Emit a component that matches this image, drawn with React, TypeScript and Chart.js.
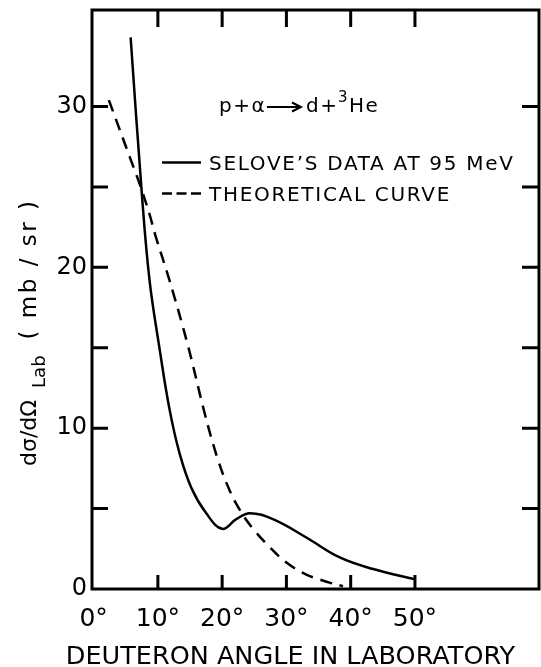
import React, { useEffect, useRef } from 'react';
import { Chart, registerables } from 'chart.js';

Chart.register(...registerables);

// ---- data ----
const xTickLabels = [0, 10, 20, 30, 40, 50];
const xTickMarks = [10, 20, 30, 40, 50];
const yTickLabels = [0, 10, 20, 30];
const yTickMarks = [5, 10, 15, 20, 25, 30];

const seloveLabel = 'SELOVE\u2019S DATA AT 95 MeV';
const seloveAngles = [5.76, 7.5, 8.7, 10.2, 11.8, 13.4, 15.2, 17.5, 20.0, 22.2, 24.3, 27.9, 33.1, 38.3, 43.5, 50.0];
const seloveValues = [34.3, 24.6, 19.2, 15.1, 11.2, 8.4, 6.3, 4.72, 3.74, 4.34, 4.71, 4.34, 3.2, 1.96, 1.24, 0.6];

const theoryLabel = 'THEORETICAL CURVE';
const theoryAngles = [2.37, 5.86, 7.15, 8.7, 9.6, 11.8, 14.7, 17.3, 19.3, 21.2, 23.0, 24.8, 27.4, 30.0, 33.1, 36.7, 38.8];
const theoryValues = [30.4, 26.6, 25.2, 23.3, 22.0, 19.2, 15.1, 10.9, 8.1, 6.1, 4.75, 3.75, 2.6, 1.65, 0.9, 0.4, 0.17];

const xMin = -0.25;
const xMax = 69.3;
const yMin = 0;
const yMax = 36;

const FONT = '"DejaVu Sans", sans-serif';

const decorPlugin = {
  id: 'decor',
  afterDraw(chart: any) {
    const { ctx, chartArea: a, scales } = chart;
    const xs = scales.x;
    const ys = scales.y;
    ctx.save();
    ctx.strokeStyle = '#000';
    ctx.fillStyle = '#000';

    // frame
    ctx.lineWidth = 3;
    ctx.strokeRect(a.left, a.top, a.right - a.left, a.bottom - a.top);

    // inward tick marks
    ctx.beginPath();
    for (const v of yTickMarks) {
      const y = ys.getPixelForValue(v);
      ctx.moveTo(a.left, y);
      ctx.lineTo(a.left + 16, y);
      ctx.moveTo(a.right, y);
      ctx.lineTo(a.right - 17, y);
    }
    for (const v of xTickMarks) {
      const x = xs.getPixelForValue(v);
      ctx.moveTo(x, a.top);
      ctx.lineTo(x, a.top + 17);
      ctx.moveTo(x, a.bottom);
      ctx.lineTo(x, a.bottom - 14);
    }
    ctx.stroke();

    // reaction label: p+α ⟶ d+³He
    ctx.textBaseline = 'alphabetic';
    ctx.textAlign = 'left';
    const rx = a.left + 127;
    const ry = a.top + 102;
    ctx.font = `20px ${FONT}`;
    (ctx as any).letterSpacing = '1.5px';
    ctx.fillText('p+\u03b1', rx, ry);
    ctx.lineWidth = 2;
    ctx.beginPath();
    const ax0 = rx + 48;
    const ax1 = rx + 82;
    const ay = ry - 5;
    ctx.moveTo(ax0, ay);
    ctx.lineTo(ax1, ay);
    ctx.moveTo(ax1 - 9, ay - 4.5);
    ctx.lineTo(ax1, ay);
    ctx.lineTo(ax1 - 9, ay + 4.5);
    ctx.stroke();
    ctx.fillText('d+', rx + 87, ry);
    ctx.font = `15px ${FONT}`;
    ctx.fillText('3', rx + 119, ry - 10);
    ctx.font = `20px ${FONT}`;
    ctx.fillText('He', rx + 130, ry);
    (ctx as any).letterSpacing = '0px';

    // legend
    const lx0 = a.left + 70;
    const lx1 = a.left + 109;
    const tx = a.left + 117;
    const rows = [a.top + 152.5, a.top + 183.5];
    ctx.font = `20px ${FONT}`;
    (ctx as any).letterSpacing = '1.7px';
    chart.data.datasets.forEach((ds: any, i: number) => {
      const y = rows[i];
      ctx.lineWidth = ds.borderWidth;
      ctx.setLineDash(ds.borderDash ? [10, 4.5] : []);
      ctx.beginPath();
      ctx.moveTo(lx0, y);
      ctx.lineTo(lx1, y);
      ctx.stroke();
      ctx.setLineDash([]);
      ctx.fillText(ds.label, tx, y + 7.5);
    });
    (ctx as any).letterSpacing = '0px';

    // x-axis title
    ctx.font = `25.5px ${FONT}`;
    ctx.textAlign = 'center';
    ctx.fillText('DEUTERON ANGLE IN LABORATORY', 290.5, 664);

    // y-axis title (rotated, with subscript)
    ctx.textAlign = 'left';
    const drawRot = (text: string, bx: number, sy: number, font: string) => {
      ctx.save();
      ctx.font = font;
      ctx.translate(bx, sy);
      ctx.rotate(-Math.PI / 2);
      ctx.fillText(text, 0, 0);
      const w = ctx.measureText(text).width;
      ctx.restore();
      return w;
    };
    let sy = 466;
    const w1 = drawRot('d\u03c3/d\u03a9', 36, sy, `22px ${FONT}`);
    sy -= w1 + 12;
    const w2 = drawRot('Lab', 45, sy, `18px ${FONT}`);
    sy -= w2 + 16;
    (ctx as any).letterSpacing = '2.5px';
    drawRot('( mb / sr )', 36, sy, `23px ${FONT}`);
    (ctx as any).letterSpacing = '0px';

    ctx.restore();
  },
};

export default function App() {
  const ref = useRef<HTMLCanvasElement>(null);

  useEffect(() => {
    const canvas = ref.current;
    if (!canvas) return;
    const chart = new Chart(canvas, {
      type: 'line',
      data: {
        datasets: [
          {
            label: seloveLabel,
            data: seloveAngles.map((x, i) => ({ x, y: seloveValues[i] })),
            borderColor: '#000',
            borderWidth: 2.5,
            pointRadius: 0,
            fill: false,
            tension: 0.4,
          },
          {
            label: theoryLabel,
            data: theoryAngles.map((x, i) => ({ x, y: theoryValues[i] })),
            borderColor: '#000',
            borderWidth: 2.5,
            borderDash: [12, 8],
            pointRadius: 0,
            fill: false,
            tension: 0.4,
          },
        ],
      },
      options: {
        responsive: false,
        animation: false,
        devicePixelRatio: 1,
        layout: { padding: { top: 10, right: 2, left: 0, bottom: 0 } },
        plugins: {
          legend: { display: false },
          tooltip: { enabled: false },
        },
        scales: {
          x: {
            type: 'linear',
            min: xMin,
            max: xMax,
            grid: { display: false, drawTicks: false },
            border: { display: false },
            ticks: {
              color: '#000',
              font: { family: FONT, size: 25 },
              padding: 15,
              maxRotation: 0,
              autoSkip: false,
              callback: (v: any) => `${v}\u00b0`,
            },
            afterBuildTicks: (axis: any) => {
              axis.ticks = xTickLabels.map((v) => ({ value: v }));
            },
            afterFit: (s: any) => {
              s.height = 78;
              s.paddingLeft = 0;
              s.paddingRight = 0;
            },
          },
          y: {
            type: 'linear',
            min: yMin,
            max: yMax,
            grid: { display: false, drawTicks: false },
            border: { display: false },
            ticks: {
              color: '#000',
              font: { family: FONT, size: 24 },
              padding: 5,
              callback: (v: any) => `${v}`,
            },
            afterBuildTicks: (axis: any) => {
              axis.ticks = yTickLabels.map((v) => ({ value: v }));
            },
            afterFit: (s: any) => {
              s.width = 92;
              s.paddingTop = 0;
              s.paddingBottom = 0;
            },
          },
        },
      },
      plugins: [decorPlugin],
    } as any);
    return () => chart.destroy();
  }, []);

  return (
    <div style={{ position: 'absolute', left: 0, top: 0, width: 541, height: 667, background: '#fff' }}>
      <canvas ref={ref} width={541} height={667} style={{ display: 'block', width: 541, height: 667 }} />
    </div>
  );
}
